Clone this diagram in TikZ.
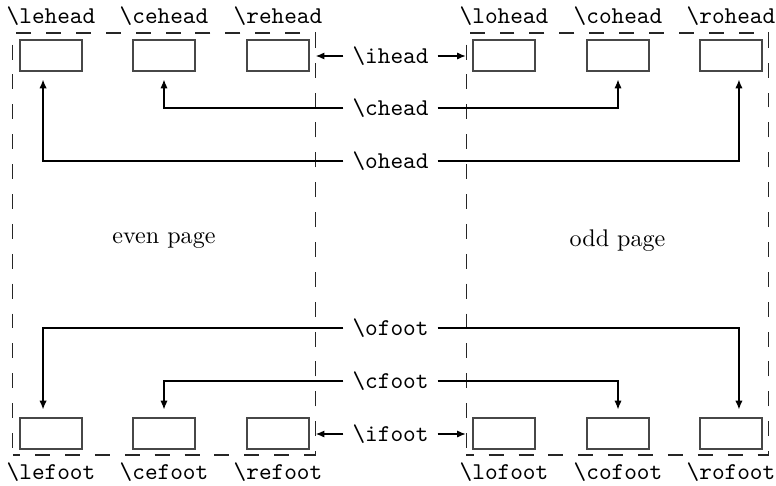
\documentclass[tikz,border=0pt]{standalone}
\usetikzlibrary{arrows.meta,calc}
\begin{document}
\begin{tikzpicture}[x={(0.415pt,0)},y={(0,-0.415pt)},
  pageframe/.style={draw=black!85,line width=0.5pt,dash pattern=on 6.2pt off 6.2pt,dash phase=3.1pt,
    minimum width=125.5pt,minimum height=175.1pt,inner sep=0pt},
  slot/.style={draw=black!72,line width=0.5pt,minimum width=25.7pt,minimum height=12.9pt,inner sep=0pt},
  cmd/.style={font=\ttfamily,inner sep=0pt},
  mid/.style={font=\ttfamily,inner sep=3.6pt},
  conn/.style={draw=black,line width=0.5pt,-{Latex[length=3.6pt,width=3pt]}},
  plain/.style={font=\rmfamily}]
\useasboundingbox (0,0) rectangle (776,485);
% page frames
\node[pageframe] (lframe) at (164,244) {};
\node[pageframe] (rframe) at (617.5,244) {};
% header slots
\node[slot] (leh) at (51,55.5) {};
\node[slot] (ceh) at (164,55.5) {};
\node[slot] (reh) at (278,55.5) {};
\node[slot] (loh) at (504,55.5) {};
\node[slot] (coh) at (618,55.5) {};
\node[slot] (roh) at (731,55.5) {};
% footer slots
\node[slot] (lef) at (51,433.5) {};
\node[slot] (cef) at (164,433.5) {};
\node[slot] (ref) at (278,433.5) {};
\node[slot] (lof) at (504,433.5) {};
\node[slot] (cof) at (618,433.5) {};
\node[slot] (rof) at (731,433.5) {};
% slot names
\node[cmd] (tleh) at (51,16) {\textbackslash lehead};
\node[cmd] (tceh) at (164,16) {\textbackslash cehead};
\node[cmd] (treh) at (278,16) {\textbackslash rehead};
\node[cmd] (tloh) at (504,16) {\textbackslash lohead};
\node[cmd] (tcoh) at (618,16) {\textbackslash cohead};
\node[cmd] (troh) at (731,16) {\textbackslash rohead};
\node[cmd] (tlef) at (51,472) {\textbackslash lefoot};
\node[cmd] (tcef) at (164,472) {\textbackslash cefoot};
\node[cmd] (tref) at (278,472) {\textbackslash refoot};
\node[cmd] (tlof) at (504,472) {\textbackslash lofoot};
\node[cmd] (tcof) at (618,472) {\textbackslash cofoot};
\node[cmd] (trof) at (731,472) {\textbackslash rofoot};
% page texts
\node[plain] (even) at (164,241) {even page};
\node[plain] (odd) at (617.5,241) {odd page};
% commands
\node[mid] (ihead) at (390.5,56) {\textbackslash ihead};
\node[mid] (chead) at (390.5,108) {\textbackslash chead};
\node[mid] (ohead) at (390.5,161) {\textbackslash ohead};
\node[mid] (ofoot) at (390.5,328) {\textbackslash ofoot};
\node[mid] (cfoot) at (390.5,381) {\textbackslash cfoot};
\node[mid] (ifoot) at (390.5,434) {\textbackslash ifoot};
% connectors
\draw[conn] (ihead.west) -- (ihead.west -| lframe.east);
\draw[conn] (ihead.east) -- (ihead.east -| rframe.west);
\draw[conn,shorten >=3.3pt] (chead.west) -| (ceh.south);
\draw[conn,shorten >=3.3pt] (chead.east) -| (coh.south);
\draw[conn,shorten >=3.3pt] (ohead.west) -| ([xshift=-3.3pt]leh.south);
\draw[conn,shorten >=3.3pt] (ohead.east) -| ([xshift=3.3pt]roh.south);
\draw[conn,shorten >=3.3pt] (ofoot.west) -| ([xshift=-3.3pt]lef.north);
\draw[conn,shorten >=3.3pt] (ofoot.east) -| ([xshift=3.3pt]rof.north);
\draw[conn,shorten >=3.3pt] (cfoot.west) -| (cef.north);
\draw[conn,shorten >=3.3pt] (cfoot.east) -| (cof.north);
\draw[conn] (ifoot.west) -- (ifoot.west -| lframe.east);
\draw[conn] (ifoot.east) -- (ifoot.east -| rframe.west);
\end{tikzpicture}
\end{document}
